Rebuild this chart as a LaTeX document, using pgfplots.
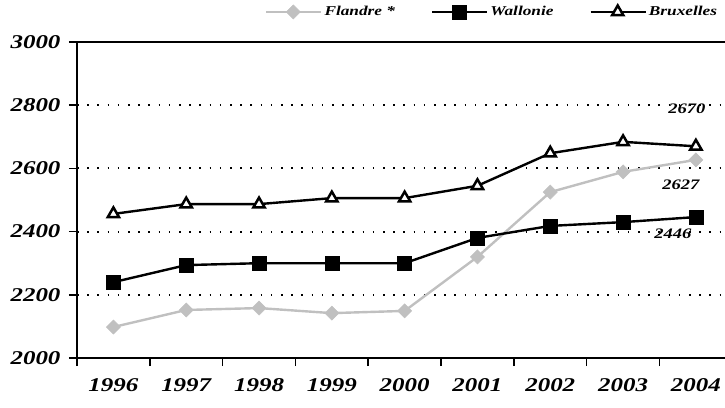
\documentclass[border=0pt]{standalone}
\usepackage{graphicx}
\usepackage{pgfplots}
\pgfplotsset{compat=1.18}
\usepackage{fontspec}
\setmainfont{Liberation Serif}
\definecolor{fl}{RGB}{192,192,192}
\newcommand{\tf}[1]{\fontsize{#1}{#1}\selectfont\rmfamily\bfseries\itshape}
\newcommand{\sx}[1]{\scalebox{1.28}[1]{#1}}
\begin{document}
\begin{tikzpicture}
\path[use as bounding box] (-77pt,-49pt) rectangle (648pt,358pt);
\begin{axis}[
  at={(0,0)}, anchor=south west,
  scale only axis, width=648pt, height=316pt,
  xmin=-0.5, xmax=8.4, ymin=2000, ymax=3000,
  axis lines=left,
  axis line style={-, line width=2pt},
  xtick={-0.5,0.5,1.5,2.5,3.5,4.5,5.5,6.5,7.5},
  xticklabels={},
  extra x ticks={0,...,8},
  extra x tick labels={\sx{1996},\sx{1997},\sx{1998},\sx{1999},\sx{2000},\sx{2001},\sx{2002},\sx{2003},\sx{2004}},
  extra x tick style={major tick length=0pt, xticklabel style={yshift=-17pt}},
  major tick length=8pt,
  tick style={black, line width=1.5pt, solid},
  ytick={2000,2200,2400,2600,2800,3000},
  yticklabels={\sx{2000},\sx{2200},\sx{2400},\sx{2600},\sx{2800},\sx{3000}},
  ticklabel style={font=\tf{19.5}},
  yticklabel style={xshift=-5pt},
  legend style={at={(0.29,1.095)}, anchor=west, draw=none, fill=none,
    font=\tf{13.5},
    legend columns=3, inner sep=0pt,
    /tikz/every even column/.append style={column sep=34pt}},
  legend cell align=left,
  legend image code/.code={\draw[mark repeat=2, mark phase=2, #1] plot coordinates {(0pt,0pt) (27pt,0pt) (55pt,0pt)};},
  clip=false,
  tick align=outside,
]
\pgfplotsinvokeforeach{2200,2400,2600,2800}{
  \draw[black, line width=2pt, dash pattern=on 1.6pt off 8.6pt] (axis cs:-0.5,#1) -- (axis cs:8.4,#1);
}
\draw[black, line width=2pt] (axis cs:-0.5,3000) -- (axis cs:8.4,3000);
\addplot[fl, line width=2.4pt, mark=square*, mark size=5pt, mark options={rotate=45, fill=fl, draw=fl, line width=0.5pt}]
  coordinates {(0,2098) (1,2152) (2,2158) (3,2142) (4,2149) (5,2320) (6,2525) (7,2589) (8,2627)};
\addlegendentry{\sx{Flandre *}}
\addplot[black, line width=2.4pt, mark=square*, mark size=7pt, mark options={fill=black, line width=0.5pt}]
  coordinates {(0,2240) (1,2294) (2,2300) (3,2300) (4,2300) (5,2380) (6,2418) (7,2430) (8,2446)};
\addlegendentry{\sx{Wallonie}}
\addplot[black, line width=2.4pt, mark=triangle*, mark size=6.5pt, mark options={fill=white, draw=black, line width=2.5pt}]
  coordinates {(0,2456) (1,2487) (2,2487) (3,2506) (4,2506) (5,2545) (6,2648) (7,2684) (8,2670)};
\addlegendentry{\sx{Bruxelles}}
\node[font=\tf{14.5}] at (axis cs:8,2670) [xshift=-9pt, yshift=38pt] {\sx{2670}};
\node[font=\tf{14.5}] at (axis cs:8,2627) [xshift=-15pt, yshift=-25pt] {\sx{2627}};
\node[font=\tf{14.5}] at (axis cs:8,2446) [xshift=-23pt, yshift=-17pt] {\sx{2446}};
\end{axis}
\end{tikzpicture}
\end{document}
